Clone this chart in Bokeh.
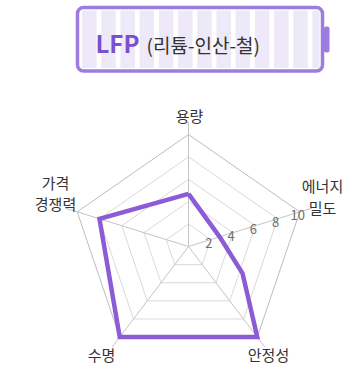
import numpy as np
from bokeh.plotting import figure
from bokeh.models import Range1d
from bokeh.embed import file_html
from bokeh.resources import INLINE
from bokeh.core.properties import value

# ---------------- data ----------------
axis_names = ["용량", "에너지 밀도", "안정성", "수명", "가격 경쟁력"]
axis_label_lines = [["용량"], ["에너지", "밀도"], ["안정성"], ["수명"], ["가격", "경쟁력"]]
lfp_values = [4.7, 2.8, 10, 10, 8]
ring_ticks = [2, 4, 6, 8, 10]
tick_labels = ["2", "4", "6", "8", "10"]
# the drawn outline has an extra bend between 에너지 밀도 and 안정성
bend_angle_deg = -27.4
bend_value = 5.2
title_main = "LFP"
title_sub = "(리튬-인산-철)"

# ---------------- layout ----------------
W, H = 354, 364
FONT = "Noto Sans CJK KR"
PURPLE = "#8b5cd6"

def X(sx):  # picture px -> data
    return sx

def Y(sy):
    return H - sy

CX, CY = X(188), Y(246)
KX, KY = 11.7, 11.2        # px per unit
SPOKE_MAX = 11.1

angles = [np.deg2rad(90 - 72 * i) for i in range(len(axis_names))]

def pt(v, a):
    return CX + v * KX * np.cos(a), CY + v * KY * np.sin(a)

p = figure(width=W, height=H, x_range=Range1d(0, W), y_range=Range1d(0, H),
           output_backend="svg", toolbar_location=None, min_border=0)
p.axis.visible = False
p.grid.visible = False
p.outline_line_color = None
p.background_fill_color = "white"

# ---------- header (battery) ----------
bx0, bx1, by0, by1 = 77, 322, 7, 70.5
col_start, col_step, col_w = 81.5, 19.2, 14.5
cols_l, cols_r = [], []
k = 0
while col_start + k * col_step < bx1 - 4:
    l = col_start + k * col_step
    r = min(l + col_w, bx1 - 3)
    cols_l.append(X(l)); cols_r.append(X(r))
    k += 1
p.quad(left=cols_l, right=cols_r, top=Y(10), bottom=Y(67.5),
       fill_color="#ede9f8", line_color=None)
p.quad(left=[X(bx0)], right=[X(bx1)], top=[Y(by0)], bottom=[Y(by1)],
       fill_color=None, line_color="#9c7ddf", line_width=3.5, border_radius=6)
p.quad(left=[X(bx1 + 1.5)], right=[X(bx1 + 7)], top=[Y(26)], bottom=[Y(52)],
       fill_color="#9c7ddf", line_color=None, border_radius=2)

p.text(x=[X(95)], y=[Y(42)], text=[title_main], text_font=value(FONT),
       text_font_size="24px", text_font_style="bold", text_color="#7a4fd0",
       text_align="left", text_baseline="middle")
p.text(x=[X(146)], y=[Y(44)], text=[title_sub], text_font=value(FONT),
       text_font_size="19px", text_color="#333333",
       text_align="left", text_baseline="middle")

# ---------- radar grid ----------
for t in ring_ticks:
    xs, ys = zip(*[pt(t, a) for a in angles + [angles[0]]])
    p.line(list(xs), list(ys), line_color="#bdbdbd" if t == ring_ticks[-1] else "#dadada",
           line_width=1)
for a in angles:
    ex, ey = pt(SPOKE_MAX, a)
    p.line([CX, ex], [CY, ey], line_color="#c4c4c4", line_width=1)

# tick labels along 에너지 밀도 axis
tx, ty = zip(*[pt(t, angles[1]) for t in ring_ticks])
p.text(x=list(tx), y=list(ty), text=tick_labels, x_offset=-2, y_offset=3.2,
       text_font=value(FONT), text_font_size="13px", text_color="#6e6e6e",
       text_align="center", text_baseline="middle")

# ---------- LFP outline ----------
path = [pt(lfp_values[0], angles[0]), pt(lfp_values[1], angles[1]),
        pt(bend_value, np.deg2rad(bend_angle_deg)),
        pt(lfp_values[2], angles[2]), pt(lfp_values[3], angles[3]),
        pt(lfp_values[4], angles[4])]
px_, py_ = zip(*(path + [path[0]]))
p.line(list(px_), list(py_), line_color=PURPLE, line_width=4.5, line_join="miter")

# ---------- axis labels ----------
label_pos = [[(189, 115)], [(322, 185), (322, 207)], [(268, 354)], [(101, 354)],
             [(55, 182), (55, 203)]]
lx, ly, lt = [], [], []
for lines, poss in zip(axis_label_lines, label_pos):
    for s, (sx, sy) in zip(lines, poss):
        lx.append(X(sx)); ly.append(Y(sy)); lt.append(s)
p.text(x=lx, y=ly, text=lt, text_font=value(FONT), text_font_size="15px",
       text_color="#333333", text_align="center", text_baseline="middle")

open("out.html", "w").write(file_html(p, INLINE))
